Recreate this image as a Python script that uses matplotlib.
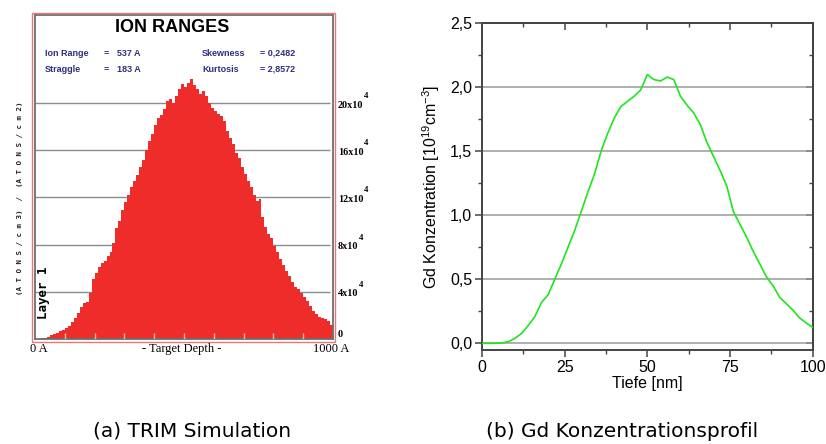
import numpy as np
import matplotlib
matplotlib.use("Agg")
import matplotlib.pyplot as plt
from matplotlib.patches import Rectangle

# ---------------- data ----------------
# (a) TRIM histogram: 100 bins of 10 A, values in units of 1e4 (atoms/cm3)/(atoms/cm2)
trim_bin_width = 10
trim_values = [
    0.0, 0.0, 0.05, 0.1, 0.15, 0.3, 0.4, 0.5, 0.65, 0.8,
    0.93, 1.1, 1.4, 1.75, 2.2, 2.7, 3.05, 3.15, 3.9, 5.1,
    5.6, 6.1, 6.4, 6.6, 7.0, 7.4, 8.1, 9.4, 10.0, 10.9,
    11.6, 12.2, 12.9, 13.4, 13.9, 14.6, 15.2, 16.0, 16.8, 17.4,
    18.1, 18.7, 19.0, 19.5, 20.2, 20.3, 20.0, 20.6, 21.2, 21.6,
    21.4, 21.7, 22.0, 21.5, 21.2, 20.8, 21.0, 20.6, 20.0, 19.6,
    19.3, 19.1, 18.9, 18.5, 17.6, 17.0, 16.5, 15.8, 15.3, 14.6,
    14.0, 13.4, 12.9, 12.2, 11.7, 11.9, 10.3, 9.5, 8.9, 8.6,
    7.9, 7.4, 6.8, 6.3, 5.8, 5.3, 4.8, 4.4, 4.2, 3.9,
    3.6, 3.2, 2.8, 2.4, 2.1, 1.9, 1.8, 1.7, 1.5, 1.2,
]
trim_grid_levels = [4, 8, 12, 16, 20]
trim_right_labels = ["0", "4x10", "8x10", "12x10", "16x10", "20x10"]
trim_right_levels = [0, 4, 8, 12, 16, 20]

# (b) Gd concentration profile
depth_nm = [0, 2, 4, 6, 8, 10, 12, 14, 16, 18, 20, 22, 24, 26, 28, 30, 32, 34, 36, 38,
            40, 42, 44, 46, 48, 50, 52, 54, 56, 58, 60, 62, 64, 66, 68, 70, 72, 74, 76,
            78, 80, 82, 84, 86, 88, 90, 92, 94, 96, 98, 100]
gd_conc = [0.0, 0.0, 0.001, 0.003, 0.013, 0.04, 0.078, 0.14, 0.21, 0.32, 0.38, 0.50,
           0.62, 0.75, 0.88, 1.03, 1.18, 1.32, 1.50, 1.64, 1.76, 1.85, 1.89, 1.93, 1.98,
           2.10, 2.06, 2.05, 2.08, 2.06, 1.93, 1.86, 1.80, 1.71, 1.57, 1.46, 1.35, 1.23,
           1.03, 0.93, 0.83, 0.72, 0.62, 0.52, 0.45, 0.36, 0.31, 0.26, 0.20, 0.16, 0.125]
gd_xticks = [0, 25, 50, 75, 100]
gd_yticks = [0.0, 0.5, 1.0, 1.5, 2.0, 2.5]

W, H = 826, 444
fig = plt.figure(figsize=(W / 100, H / 100), dpi=100)


def rect(x0, y0, x1, y1):
    """pixel box (top-left origin) -> figure fraction [l, b, w, h]"""
    return [x0 / W, 1 - y1 / H, (x1 - x0) / W, (y1 - y0) / H]


# ---------------- (a) TRIM panel ----------------
fig.add_artist(Rectangle((32 / W, 1 - 342 / H), 303 / W, 329 / H,
                         transform=fig.transFigure, fill=False,
                         edgecolor="#e87878", linewidth=1.0))
axa = fig.add_axes(rect(35, 15, 333, 339))
axa.set_xlim(0, 1000)
axa.set_ylim(0, 27.46)
edges = np.arange(len(trim_values)) * trim_bin_width
axa.hlines(trim_grid_levels, 0, 990, color="#8c8c8c", linewidth=1.0, zorder=1)
axa.bar(edges, trim_values, width=trim_bin_width, align="edge",
        color="#ee2d2b", linewidth=0, zorder=2)
# small depth ticks drawn over the fill
axa.vlines(np.arange(100, 1000, 100), 0, 0.55, color="#c8c8c8", linewidth=1.0, zorder=3)
axa.set_xticks([])
axa.set_yticks([])
for s in axa.spines.values():
    s.set_color("#6e6e6e")
    s.set_linewidth(1.3)

axa.text(0.46, 0.962, "ION RANGES", transform=axa.transAxes, ha="center", va="center",
         fontsize=13, fontweight="bold", family="Liberation Sans", color="black")
info_color = "#2f2f7e"
info = [("Ion Range", "=", "537 A", "Skewness", "= 0,2482", 53),
        ("Straggle", "=", "183 A", "Kurtosis", "= 2,8572", 69)]
for a, eq, b, c, d, yp in info:
    for txt, xp in [(a, 45), (eq, 104), (b, 117), (c, 202), (d, 260)]:
        fig.text(xp / W, 1 - yp / H, txt, ha="left", va="center", fontsize=6.5,
                 fontweight="bold", family="Liberation Sans", color=info_color)

ytrans = axa.get_yaxis_transform()
for lab, lev in zip(trim_right_labels, trim_right_levels):
    yy = lev + (-0.17 if lev > 0 else 0.35)
    t = axa.text(1.017, yy, lab, transform=ytrans, ha="left", va="center",
                 fontsize=7.3, fontweight="bold", family="Liberation Serif", clip_on=False)
    if lev > 0:
        axa.text(1.017 + (len(lab) * 4.9 + 1.5) / 298, lev + 0.6, "4", transform=ytrans,
                 ha="left", va="center", fontsize=6.5, fontweight="bold",
                 family="Liberation Serif", clip_on=False)

fig.text(30 / W, 1 - 349 / H, "0 A", ha="left", va="center", fontsize=9,
         family="Liberation Serif")
fig.text(182 / W, 1 - 349 / H, "- Target Depth -", ha="center", va="center", fontsize=9,
         family="Liberation Serif")
fig.text(313 / W, 1 - 349 / H, "1000 A", ha="left", va="center", fontsize=9,
         family="Liberation Serif")
fig.text(20 / W, 1 - 198 / H,
         "(A T O N S / c m 3)  /  (A T O N S / c m 2)",
         rotation=90, ha="center", va="center", fontsize=5.4, fontweight="bold",
         family="DejaVu Sans Mono", color="#222222")
fig.text(43 / W, 1 - 293 / H, "Layer 1", rotation=90, ha="center", va="center",
         fontsize=9, fontweight="bold", family="DejaVu Sans Mono", color="black")

# ---------------- (b) Gd profile ----------------
plt.rcParams["mathtext.fontset"] = "custom"
plt.rcParams["mathtext.rm"] = "Liberation Sans"
plt.rcParams["mathtext.it"] = "Liberation Sans:italic"
axb = fig.add_axes(rect(482, 23.3, 812.7, 350))
axb.set_xlim(0, 100)
axb.set_ylim(-0.052, 2.5)
for g in gd_yticks:
    axb.axhline(g, color="#9a9a9a", linewidth=1.1, zorder=1)
axb.plot(depth_nm, gd_conc, color="#1ee61e", linewidth=1.2, zorder=3)
axb.set_xticks(gd_xticks)
axb.set_yticks(gd_yticks)
axb.set_xticks(np.arange(12.5, 100, 25), minor=True)
axb.set_yticks(np.arange(0.25, 2.5, 0.5), minor=True)
axb.set_xticklabels([str(v) for v in gd_xticks])
axb.set_yticklabels([f"{v:.1f}".replace(".", ",") for v in gd_yticks])
axb.tick_params(which="major", direction="out", length=5, width=1.1, color="#444444",
                labelsize=11.5, pad=2)
axb.tick_params(which="minor", direction="out", length=3, width=1.0, color="#444444")
for lab in axb.get_xticklabels() + axb.get_yticklabels():
    lab.set_family("Liberation Sans")
for s in axb.spines.values():
    s.set_color("#444444")
    s.set_linewidth(1.4)

sx = axb.secondary_xaxis("top")
sx.set_xticks(gd_xticks)
sx.set_xticks(np.arange(12.5, 100, 25), minor=True)
sx.tick_params(which="major", direction="in", length=5, width=1.1, color="#444444",
               labeltop=False)
sx.tick_params(which="minor", direction="in", length=3, width=1.0, color="#444444")
sx.set_xticklabels([])
sy = axb.secondary_yaxis("right")
sy.set_yticks(gd_yticks)
sy.set_yticks(np.arange(0.25, 2.5, 0.5), minor=True)
sy.tick_params(which="major", direction="in", length=5, width=1.1, color="#444444",
               labelright=False)
sy.tick_params(which="minor", direction="in", length=3, width=1.0, color="#444444")
sy.set_yticklabels([])
for sec in (sx, sy):
    for s in sec.spines.values():
        s.set_color("#444444")
        s.set_linewidth(1.4)

axb.set_xlabel("Tiefe [nm]", fontsize=11.5, family="Liberation Sans", labelpad=1)
axb.set_ylabel(r"Gd Konzentration [10$^{19}$cm$^{-3}$]", fontsize=11.5,
               family="Liberation Sans", labelpad=6)

# ---------------- captions ----------------
fig.text(192 / W, 1 - 431 / H, "(a) TRIM Simulation", ha="center", va="center",
         fontsize=14.5, family="DejaVu Sans")
fig.text(622 / W, 1 - 431 / H, "(b) Gd Konzentrationsprofil", ha="center", va="center",
         fontsize=14.5, family="DejaVu Sans")

fig.savefig("out.png", dpi=100)
